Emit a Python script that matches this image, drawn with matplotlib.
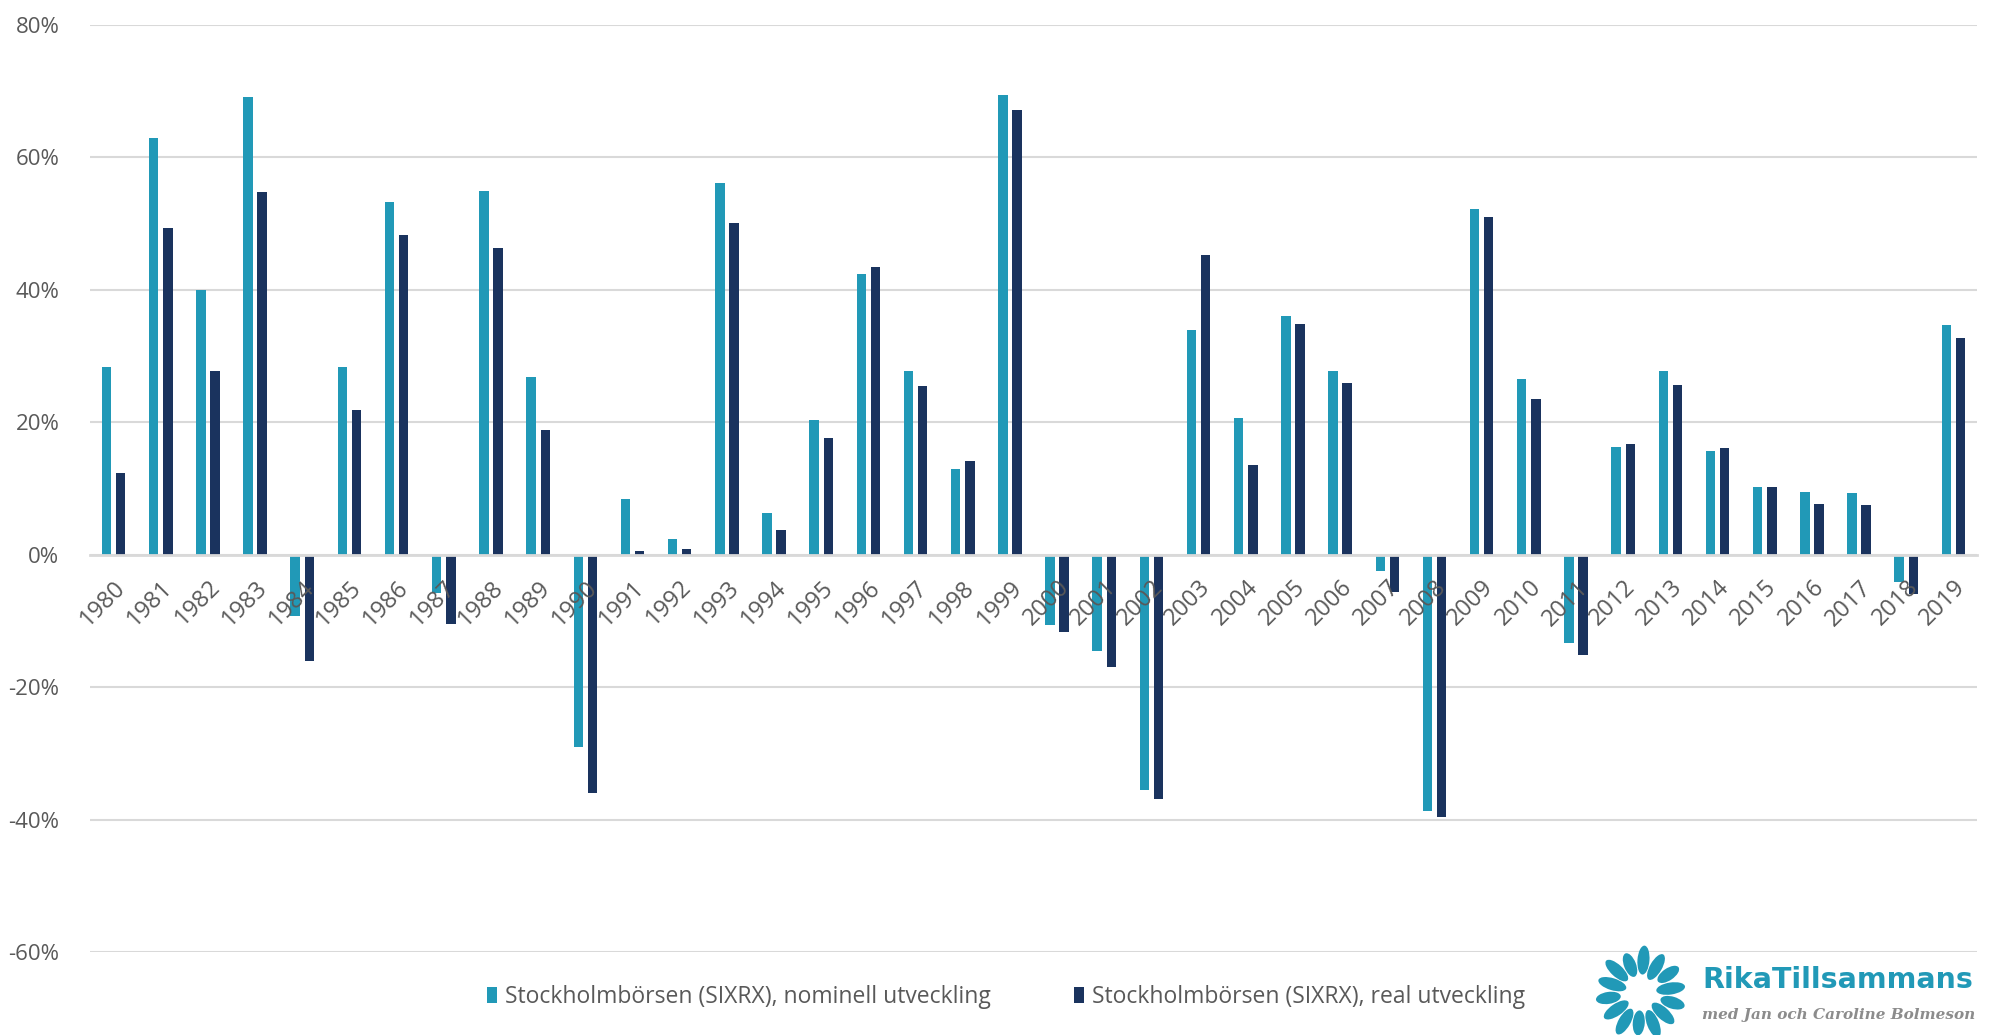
import matplotlib
matplotlib.use("Agg")
import matplotlib.pyplot as plt
import numpy as np
from matplotlib.patches import Ellipse
from matplotlib.ticker import FuncFormatter, MultipleLocator

years = [str(y) for y in range(1980, 2020)]
nominal = [28.3, 63.0, 40.0, 69.1, -9.2, 28.4, 53.3, -5.8, 55.0, 26.9,
           -29.0, 8.4, 2.4, 56.1, 6.3, 20.4, 42.4, 27.7, 12.9, 69.4,
           -10.6, -14.6, -35.6, 34.0, 20.6, 36.1, 27.8, -2.4, -38.7, 52.2,
           26.5, -13.3, 16.2, 27.7, 15.7, 10.2, 9.5, 9.3, -4.1, 34.7]
real = [12.4, 49.3, 27.8, 54.8, -16.1, 21.8, 48.3, -10.4, 46.3, 18.8,
        -36.0, 0.6, 0.9, 50.1, 3.8, 17.7, 43.5, 25.5, 14.1, 67.1,
        -11.6, -16.9, -36.9, 45.3, 13.5, 34.9, 25.9, -5.6, -39.6, 51.0,
        23.5, -15.1, 16.7, 25.7, 16.1, 10.2, 7.7, 7.5, -5.9, 32.7]
series_names = ["Stockholmbörsen (SIXRX), nominell utveckling",
                "Stockholmbörsen (SIXRX), real utveckling"]
colors = ["#2199B7", "#1A335E"]
logo_title = "RikaTillsammans"
logo_sub = "med Jan och Caroline Bolmeson"

plt.rcParams['font.family'] = ['Open Sans', 'DejaVu Sans']
W, H = 2000, 1035
fig = plt.figure(figsize=(W / 100, H / 100), dpi=100)
ax = fig.add_axes([90 / W, 1 - 952 / H, (1977 - 90) / W, (952 - 25) / H])

x = np.arange(len(years))
bw = 0.2
ax.bar(x - 0.15, nominal, bw, color=colors[0], label=series_names[0], zorder=3)
ax.bar(x + 0.15, real, bw, color=colors[1], label=series_names[1], zorder=3)

ax.set_ylim(-60, 80)
ax.set_xlim(-0.5, len(years) - 0.5)
ax.yaxis.set_major_locator(MultipleLocator(20))
ax.yaxis.set_major_formatter(FuncFormatter(lambda v, p: f"{v:.0f}%"))
ax.grid(axis='y', color='#D9D9D9', linewidth=1.5, zorder=0)
for s in ['top', 'left', 'right']:
    ax.spines[s].set_visible(False)
ax.spines['bottom'].set_position(('data', 0))
ax.spines['bottom'].set_color('#D9D9D9')
ax.spines['bottom'].set_linewidth(2)
ax.spines['bottom'].set_zorder(4)
ax.set_xticks(x)
ax.set_xticklabels(years, rotation=45, ha='right', rotation_mode='anchor')
ax.xaxis.set_zorder(5)
ax.tick_params(axis='x', length=0, pad=15, labelsize=17, labelcolor='#595959')
ax.tick_params(axis='y', length=0, pad=22, labelsize=16, labelcolor='#595959')

leg = fig.legend(loc='center', bbox_to_anchor=(0.503, 1 - 997 / H), ncol=2,
                 frameon=False, fontsize=16.5, handlelength=0.45, handleheight=0.75,
                 handletextpad=0.35, columnspacing=3.6)
for t in leg.get_texts():
    t.set_color('#595959')

# logo
cx, cy = 1641 / 100, (H - 993) / 100
n = 14
for k in range(n):
    ang = 2 * np.pi * k / n + 0.15
    r = 0.30 + 0.03 * (k % 2)
    L = 0.29 - 0.04 * (k % 3 == 1)
    e = Ellipse((cx + r * np.cos(ang), cy + r * np.sin(ang)), L, 0.12,
                angle=np.degrees(ang), transform=fig.dpi_scale_trans,
                color=colors[0], lw=0)
    fig.patches.append(e)
fig.text(1702 / W, 1 - 980 / H, logo_title, fontsize=20.5, fontweight='bold',
         family=['DejaVu Sans'], color=colors[0], va='center', ha='left')
fig.text(1975 / W, 1 - 1015 / H, logo_sub, fontsize=11, style='italic',
         fontweight='bold', family=['DejaVu Serif'],
         color='#8C8C8C', va='center', ha='right')

fig.savefig("out.png", dpi=100)
